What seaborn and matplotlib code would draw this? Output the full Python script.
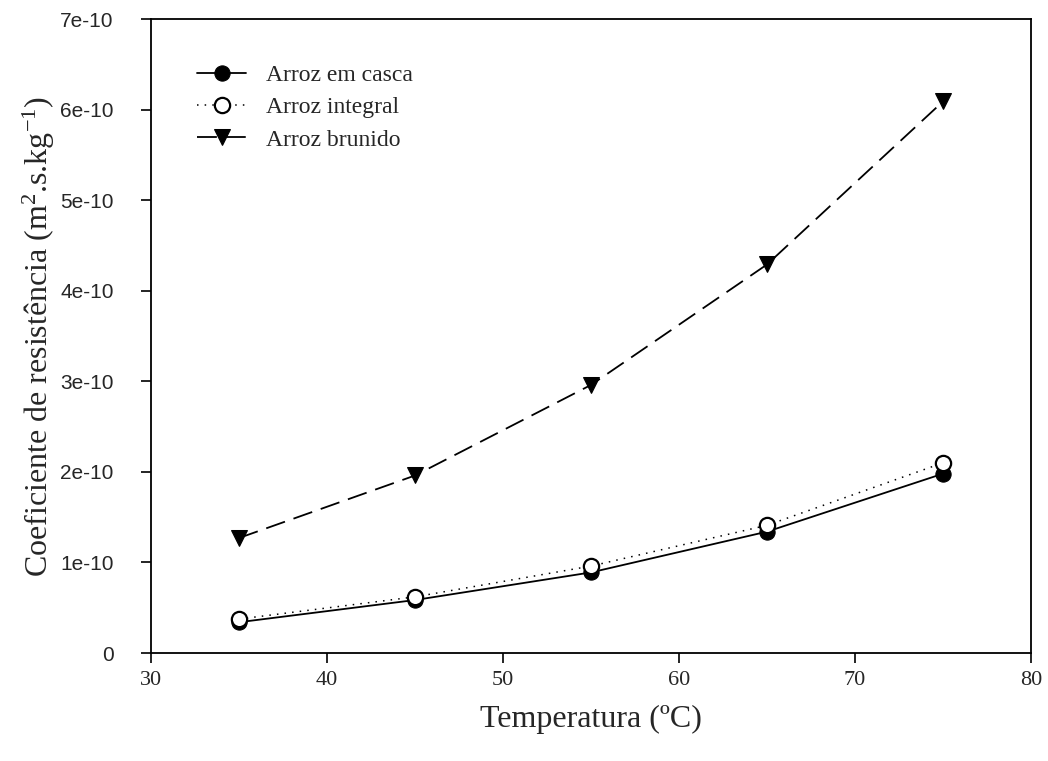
import matplotlib
matplotlib.use("Agg")
import matplotlib.pyplot as plt
import seaborn as sns
import pandas as pd

# --- Data ---
temperatura = [35, 45, 55, 65, 75]
arroz_casca = [0.34e-10, 0.585e-10, 0.89e-10, 1.34e-10, 1.98e-10]
arroz_integral = [0.375e-10, 0.62e-10, 0.96e-10, 1.41e-10, 2.10e-10]
arroz_brunido = [1.27e-10, 1.96e-10, 2.96e-10, 4.29e-10, 6.09e-10]

y_ticks = [0, 1e-10, 2e-10, 3e-10, 4e-10, 5e-10, 6e-10, 7e-10]
y_tick_labels = ["0", "1e-10", "2e-10", "3e-10", "4e-10", "5e-10", "6e-10", "7e-10"]
x_ticks = [30, 40, 50, 60, 70, 80]

sns.set_theme(style="ticks")
plt.rcParams["font.family"] = ["Liberation Serif", "DejaVu Serif"]
plt.rcParams["mathtext.fontset"] = "custom"
plt.rcParams["mathtext.rm"] = "Liberation Serif"
plt.rcParams["mathtext.it"] = "Liberation Serif:italic"

df = pd.DataFrame({"T": temperatura, "casca": arroz_casca,
                   "integral": arroz_integral, "brunido": arroz_brunido})

fig = plt.figure(figsize=(10.48, 7.61), dpi=100)
ax = fig.add_axes([0.1441, 0.1419, 0.8397, 0.8331])

sns.lineplot(data=df, x="T", y="casca", ax=ax, color="black", lw=1.3,
             linestyle="-", marker="o", markersize=11, markerfacecolor="black",
             markeredgecolor="black", label="Arroz em casca")
sns.lineplot(data=df, x="T", y="integral", ax=ax, color="black", lw=1.1,
             linestyle=(0, (1, 4)), marker="o", markersize=11, markerfacecolor="white",
             markeredgecolor="black", markeredgewidth=1.6, label="Arroz integral")
sns.lineplot(data=df, x="T", y="brunido", ax=ax, color="black", lw=1.3,
             linestyle=(0, (11, 5)), marker="v", markersize=11, markerfacecolor="black",
             markeredgecolor="black", label="Arroz brunido")

ax.set_xlim(30, 80)
ax.set_ylim(0, 7e-10)
ax.set_xticks(x_ticks)
ax.set_xticklabels([str(t) for t in x_ticks], fontsize=16)
ax.set_yticks(y_ticks)
ax.set_yticklabels(y_tick_labels, fontsize=15, family=["Liberation Sans", "DejaVu Sans"])
ax.tick_params(direction="out", length=7, width=1.2, color="black",
               top=False, right=False)
ax.tick_params(axis="x", pad=6)
ax.tick_params(axis="y", pad=20)
for sp in ax.spines.values():
    sp.set_color("black")
    sp.set_linewidth(1.3)

ax.set_xlabel("Temperatura (ºC)", fontsize=23, labelpad=11)
ax.set_ylabel("Coeficiente de resistência (m$^{2}$.s.kg$^{-1}$)", fontsize=23, labelpad=2)

leg = ax.legend(loc="upper left", bbox_to_anchor=(0.052, 0.928), frameon=False,
                borderaxespad=0, borderpad=0,
                fontsize=17, handlelength=2.1, handletextpad=0.85, labelspacing=0.45)

fig.savefig("out.png", dpi=100)
